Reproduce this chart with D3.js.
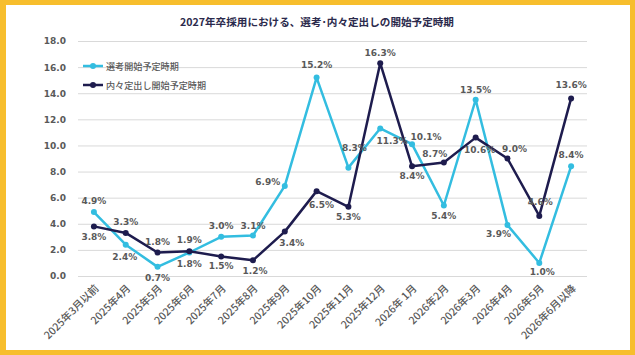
<!DOCTYPE html>
<html><head><meta charset="utf-8">
<script src="https://cdn.jsdelivr.net/npm/d3@7"></script>
<style>html,body{margin:0;padding:0;background:#fff;}svg{display:block;}</style>
</head><body>
<svg id="c" width="635" height="355"></svg>
<script>
const title = "2027年卒採用における、選考･内々定出しの開始予定時期";
const categories = ["2025年3月以前","2025年4月","2025年5月","2025年6月","2025年7月","2025年8月","2025年9月","2025年10月","2025年11月","2025年12月","2026年 1月","2026年2月","2026年3月","2026年4月","2026年5月","2026年6月以降"];
const seriesNames = ["選考開始予定時期","内々定出し開始予定時期"];
const senkou = [4.9,2.4,0.7,1.8,3.0,3.1,6.9,15.2,8.3,11.3,10.1,5.4,13.5,3.9,1.0,8.4];
const naitei = [3.8,3.3,1.8,1.9,1.5,1.2,3.4,6.5,5.3,16.3,8.4,8.7,10.6,9.0,4.6,13.6];
const yTicks = [0,2,4,6,8,10,12,14,16,18];

// label placement (layout only)
const offs1 = [[0,-11],[-1,12],[0,11],[0,11],[0,-11],[0,-10],[-17,-4],[0,-13],[6,-20],[12,13],[14,-7],[0,10],[0,-10],[-9,9],[3,9],[0,-11]];
const offs2 = [[0,11],[0,-11],[0,-11],[0,-11],[0,10],[2,11],[7,11],[5,14],[0,10],[0,-10],[0,10],[-9,-8],[4,12],[7,-10],[1,-14],[0,-13]];

(function(){
const colors = ["#33BDE0","#1E1C4E"];
const svg = d3.select("#c");
const W = 635, H = 355;
svg.append("rect").attr("x",0).attr("y",0).attr("width",W).attr("height",H).attr("fill","#F7BE2D");
svg.append("rect").attr("x",6).attr("y",5).attr("width",624).attr("height",345).attr("fill","#fff");

const pL = 78, pR = 587, pT = 41, pB = 276;
const x = d3.scalePoint().domain(categories).range([pL,pR]).padding(0.5);
const y = d3.scaleLinear().domain([0,18]).range([pB,pT]);

svg.append("text").attr("x",317).attr("y",26).attr("text-anchor","middle")
  .attr("font-family","'Noto Sans CJK JP'").attr("font-weight","bold").attr("font-size",10.6)
  .attr("fill","#2B2A4C").text(title);

const yAxis = d3.axisLeft(y).tickValues(yTicks).tickSize(-(pR-pL)).tickFormat(d3.format(".1f")).tickPadding(12);
const gy = svg.append("g").attr("transform",`translate(${pL},0)`).call(yAxis);
gy.select(".domain").remove();
gy.selectAll(".tick line").attr("stroke","#D9D9D9").attr("stroke-width",1);
gy.selectAll(".tick text").attr("font-family","'DejaVu Sans'").attr("font-weight","bold").attr("font-size",9).attr("fill","#595959");

const xAxis = d3.axisBottom(x).tickSize(0).tickPadding(0);
const gx = svg.append("g").attr("transform",`translate(0,${pB})`).call(xAxis);
gx.select(".domain").remove();
gx.selectAll(".tick text").attr("font-family","'Noto Sans CJK JP'").attr("font-weight",500).attr("font-size",10.5).attr("fill","#595959")
  .attr("text-anchor","end").attr("dy",null).attr("transform","translate(5,13) rotate(-45)");

const series = [senkou, naitei];
const offs = [offs1, offs2];
const line = d3.line().x((d,i)=>x(categories[i])).y(d=>y(d));
series.forEach((s,k)=>{
  svg.append("path").datum(s).attr("d",line).attr("fill","none").attr("stroke",colors[k]).attr("stroke-width",2.5).attr("stroke-linejoin","round");
  svg.selectAll(null).data(s).enter().append("circle").attr("cx",(d,i)=>x(categories[i])).attr("cy",d=>y(d)).attr("r",3).attr("fill",colors[k]);
});
series.forEach((s,k)=>{
  svg.selectAll(null).data(s).enter().append("text")
    .attr("x",(d,i)=>x(categories[i])+offs[k][i][0]).attr("y",(d,i)=>y(d)+offs[k][i][1])
    .attr("text-anchor","middle").attr("dominant-baseline","central")
    .attr("font-family","'DejaVu Sans'").attr("font-weight","bold").attr("font-size",9).attr("fill","#595959")
    .text(d=>d.toFixed(1)+"%");
});

seriesNames.forEach((n,k)=>{
  const ly = 66 + k*19;
  svg.append("line").attr("x1",83).attr("x2",103).attr("y1",ly).attr("y2",ly).attr("stroke",colors[k]).attr("stroke-width",2.5);
  svg.append("circle").attr("cx",93).attr("cy",ly).attr("r",3).attr("fill",colors[k]);
  svg.append("text").attr("x",106).attr("y",ly).attr("dominant-baseline","central")
    .attr("font-family","'Noto Sans CJK JP'").attr("font-weight",500).attr("font-size",9.1).attr("fill","#595959").text(n);
});
})();
</script>
</body></html>
